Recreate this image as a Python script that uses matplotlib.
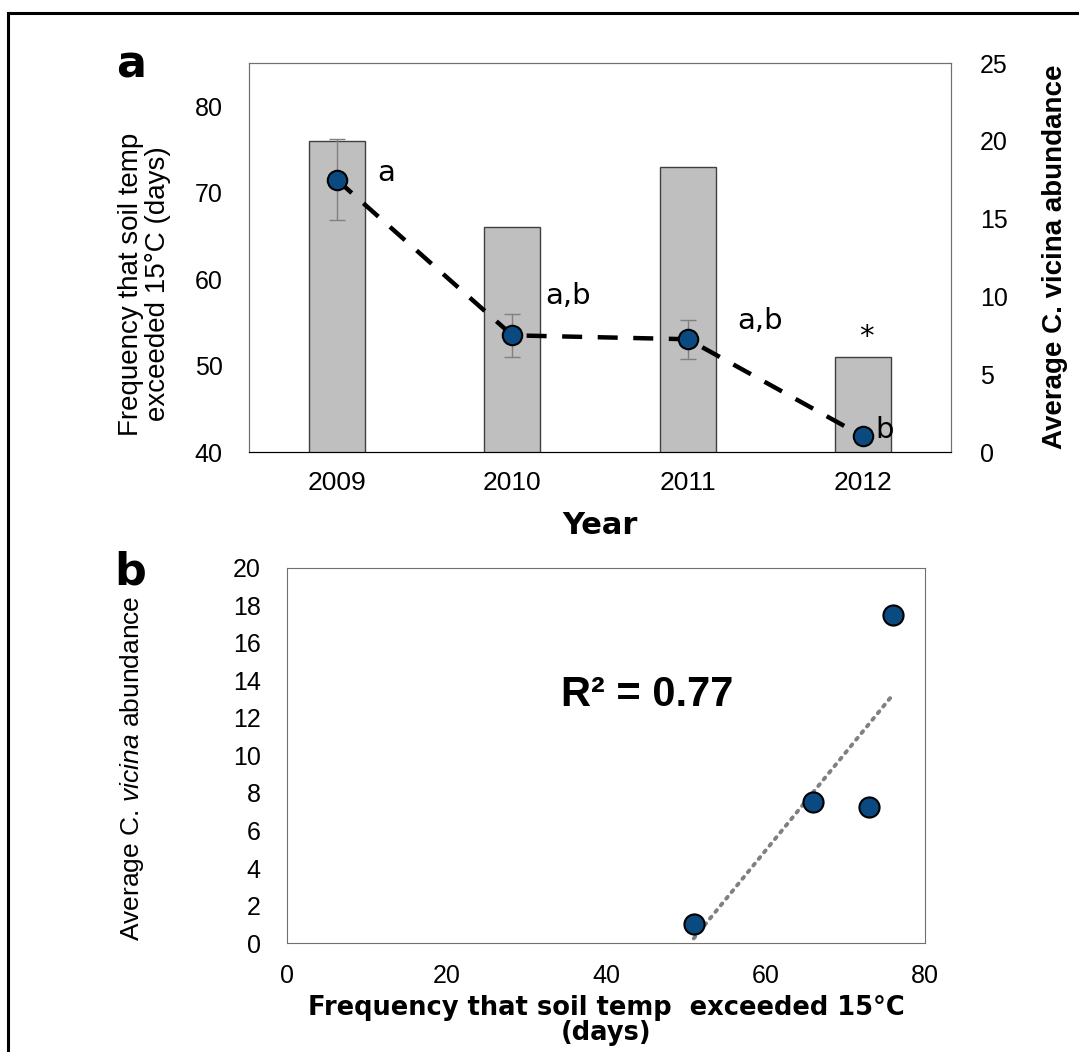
import numpy as np
import matplotlib
matplotlib.use('Agg')
import matplotlib.pyplot as plt
from matplotlib.lines import Line2D

# panel a data
years = ['2009', '2010', '2011', '2012']
days_above_15 = [76, 66, 73, 51]
abundance = [17.5, 7.5, 7.25, 1.0]
abundance_err = [2.6, 1.4, 1.25, 0.0]
group_letters = ['a', 'a,b', 'a,b', 'b']

# panel b text
r2_text = 'R² = 0.77'

plt.rcParams['font.family'] = ['Liberation Sans', 'DejaVu Sans']
plt.rcParams['mathtext.fontset'] = 'custom'
plt.rcParams['mathtext.rm'] = 'Liberation Sans'
plt.rcParams['mathtext.it'] = 'Liberation Sans:italic'

blue = '#0B4A80'
spine_col = '#707070'

fig = plt.figure(figsize=(10.79, 10.52), dpi=100)

# ---------- panel a ----------
ax1 = fig.add_axes([0.2308, 0.5703, 0.6506, 0.3698])
x = np.arange(len(years))
ax1.bar(x, days_above_15, width=0.32, color='#BFBFBF', edgecolor='#404040',
        linewidth=1.0)
ax1.set_ylim(40, 85)
ax1.set_yticks([40, 50, 60, 70, 80])
ax1.set_xlim(-0.5, 3.5)
ax1.set_xticks(x, years)
ax1.tick_params(axis='y', length=0, labelsize=18, pad=19)
ax1.tick_params(axis='x', length=0, labelsize=19, pad=14)
for s in ax1.spines.values():
    s.set_color(spine_col)
ax1.spines['bottom'].set_color('black')

ax2 = ax1.twinx()
ax2.errorbar(x, abundance, yerr=abundance_err, fmt='none', ecolor='#808080',
             elinewidth=1.0, capsize=6, capthick=1.0, zorder=2)
ax2.plot(x, abundance, color='black', linestyle=(0, (4.5, 3.5)), linewidth=3.2,
         marker='o', markersize=14, markerfacecolor=blue,
         markeredgecolor='black', markeredgewidth=1.5, zorder=3)
ax2.set_ylim(0, 25)
ax2.set_yticks([0, 5, 10, 15, 20, 25])
ax2.tick_params(axis='y', length=0, labelsize=18, pad=21)
for s in ax2.spines.values():
    s.set_color(spine_col)
ax2.spines['bottom'].set_color('black')

# significance letters beside the points
letter_pos = [(0.28, 17.9), (1.32, 10.0), (2.41, 8.4), (3.12, 1.4)]
for (lx, ly), txt in zip(letter_pos, group_letters):
    ax2.text(lx, ly, txt, ha='center', va='center', fontsize=21,
             family='DejaVu Sans')
ax2.text(3.02, 7.4, '*', ha='center', va='center', fontsize=21,
         family='DejaVu Sans')

fig.text(0.5562, 0.500, 'Year', ha='center', va='center', fontsize=22,
         fontweight='bold', family='DejaVu Sans')
fig.text(0.134, 0.730, 'Frequency that soil temp\nexceeded 15°C (days)',
         rotation=90, ha='center', va='center', multialignment='center',
         fontsize=20, linespacing=1.05)
fig.text(0.978, 0.7557, 'Average C. vicina abundance', rotation=90,
         ha='center', va='center', fontsize=20, fontweight='bold')
fig.text(0.1214, 0.938, 'a', ha='center', va='center', fontsize=32,
         fontweight='bold', family='DejaVu Sans')

# ---------- panel b ----------
ax3 = fig.add_axes([0.266, 0.1036, 0.5913, 0.3565])
ax3.scatter(days_above_15, abundance, s=210, color=blue, edgecolor='black',
            linewidth=1.5, zorder=3)
coef = np.polyfit(days_above_15, abundance, 1)
xfit = np.array([min(days_above_15), max(days_above_15)])
ax3.plot(xfit, np.polyval(coef, xfit), color='#808080', linestyle=(0, (0.6, 1.6)),
         linewidth=2.8, dash_capstyle='round', zorder=2)
ax3.set_xlim(0, 80)
ax3.set_ylim(0, 20)
ax3.set_xticks(range(0, 81, 20))
ax3.set_yticks(range(0, 21, 2))
ax3.tick_params(axis='y', length=0, labelsize=18, pad=19)
ax3.tick_params(axis='x', length=0, labelsize=18, pad=15)
for s in ax3.spines.values():
    s.set_color(spine_col)
ax3.text(0.564, 0.661, r2_text, transform=ax3.transAxes, ha='center', va='center',
         fontsize=30, fontweight='bold',
         family=['Liberation Sans Narrow', 'Liberation Sans'])

fig.text(0.5616, 0.0295, 'Frequency that soil temp  exceeded 15°C\n(days)',
         ha='center', va='center', multialignment='center', fontsize=18.5,
         fontweight='bold', family='DejaVu Sans', linespacing=0.95)
fig.text(0.122, 0.2700, r'Average C. $\mathit{vicina}$ abundance', rotation=90,
         ha='center', va='center', fontsize=19)
fig.text(0.121, 0.4560, 'b', ha='center', va='center', fontsize=32,
         fontweight='bold', family='DejaVu Sans')

# figure frame (top and left edges only)
fig.add_artist(Line2D([0.0074, 0.0074], [0.0, 0.9876], color='black',
                      linewidth=2.2, transform=fig.transFigure))
fig.add_artist(Line2D([0.0074, 1.0], [0.9876, 0.9876], color='black',
                      linewidth=2.2, transform=fig.transFigure))

fig.savefig('out.png', dpi=100)
